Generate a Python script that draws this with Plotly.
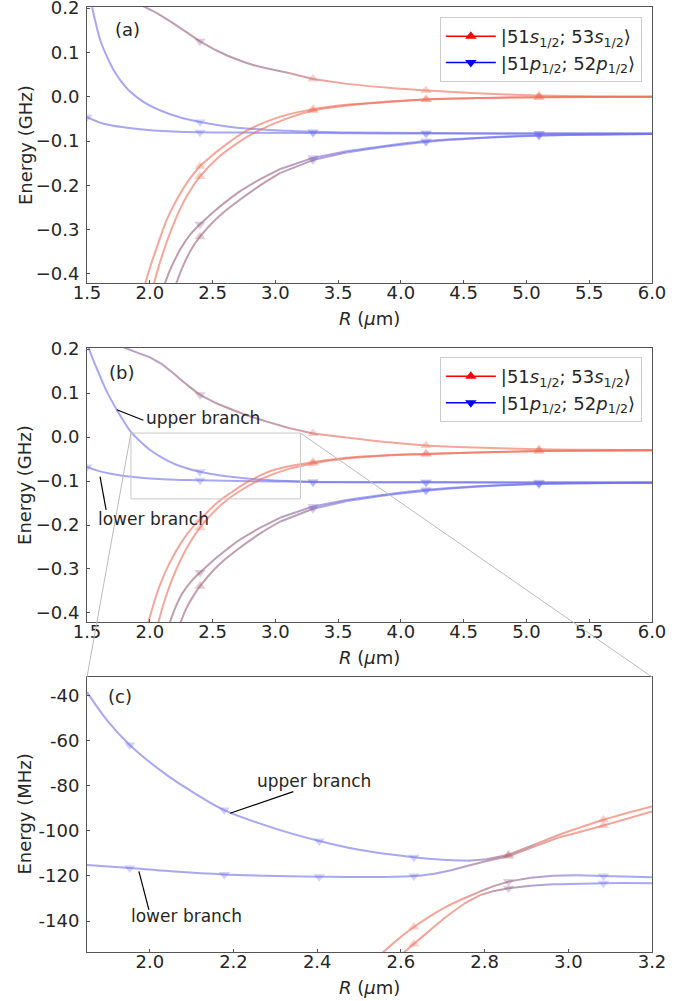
import plotly.graph_objects as go

# ---------------------------------------------------------------
# Axis ticks
# ---------------------------------------------------------------
AB_R_TICKS = [1.5, 2.0, 2.5, 3.0, 3.5, 4.0, 4.5, 5.0, 5.5, 6.0]
AB_R_LABELS = ["1.5", "2.0", "2.5", "3.0", "3.5", "4.0", "4.5", "5.0", "5.5", "6.0"]
AB_E_TICKS = [-0.4, -0.3, -0.2, -0.1, 0.0, 0.1, 0.2]
AB_E_LABELS = ["\u22120.4", "\u22120.3", "\u22120.2", "\u22120.1", "0.0", "0.1", "0.2"]
C_R_TICKS = [2.0, 2.2, 2.4, 2.6, 2.8, 3.0, 3.2]
C_R_LABELS = ["2.0", "2.2", "2.4", "2.6", "2.8", "3.0", "3.2"]
C_E_TICKS = [-140, -120, -100, -80, -60, -40]
C_E_LABELS = ["-140", "-120", "-100", "-80", "-60", "-40"]

# sample positions carrying a triangle marker
MARK_R_AB = [1.5, 2.4, 3.3, 4.2, 5.1]
MARK_R_C = [1.952, 2.178, 2.405, 2.631, 2.857, 3.084]

# ---------------------------------------------------------------
# Panel (a): pair potentials, energy in GHz; *_P = p-pair character
# ---------------------------------------------------------------
A_TOP_R = [1.95, 2.05, 2.164, 2.28, 2.4, 2.52, 2.65, 2.83, 3.1, 3.3, 3.57, 3.9, 4.2, 4.6, 5.1, 5.5, 6.0]
A_TOP_E = [0.204, 0.19, 0.170, 0.148, 0.125, 0.106, 0.089, 0.071, 0.054, 0.040, 0.029, 0.020, 0.014, 0.008, 0.003, 0.001, 0.0]
A_TOP_P = [0.6, 0.55, 0.5, 0.5, 0.55, 0.5, 0.5, 0.5, 0.3, 0.1, 0, 0, 0, 0, 0, 0, 0]

A_UP_R = [1.54, 1.575, 1.606, 1.66, 1.713, 1.766, 1.845, 1.952, 2.085, 2.244, 2.4, 2.616, 2.829, 3.095, 3.3, 3.6, 4.2, 5.1, 6.0]
A_UP_E = [0.202, 0.160, 0.127, 0.090, 0.060, 0.037, 0.011, -0.012, -0.031, -0.047, -0.057, -0.067, -0.073, -0.077, -0.079, -0.081, -0.082, -0.083, -0.083]
A_UP_P = [1, 1, 1, 1, 1, 1, 1, 1, 1, 1, 1, 1, 1, 1, 1, 1, 1, 1, 1]

A_FLAT_R = [1.5, 1.633, 1.819, 2.032, 2.4, 2.776, 3.3, 4.2, 5.1, 6.0]
A_FLAT_E = [-0.046, -0.061, -0.070, -0.076, -0.080, -0.081, -0.082, -0.083, -0.083, -0.083]
A_FLAT_P = [1, 1, 1, 1, 1, 1, 1, 1, 1, 1]

A_S1_R = [1.955, 2.0, 2.05, 2.135, 2.2, 2.295, 2.4, 2.483, 2.587, 2.776, 3.04, 3.3, 3.565, 3.9, 4.2, 4.6, 5.1, 6.0]
A_S1_E = [-0.43, -0.387, -0.345, -0.278, -0.24, -0.195, -0.157, -0.136, -0.112, -0.076, -0.045, -0.028, -0.018, -0.011, -0.006, -0.003, -0.001, 0.0]
A_S1_P = [0, 0, 0, 0, 0, 0, 0, 0, 0, 0, 0, 0, 0, 0, 0, 0, 0, 0]

A_S2_R = [2.025, 2.1, 2.2, 2.3, 2.4, 2.55, 2.7, 2.85, 3.095, 3.3, 3.565, 3.9, 4.2, 4.6, 5.1, 6.0]
A_S2_E = [-0.43, -0.357, -0.28, -0.222, -0.18, -0.136, -0.104, -0.079, -0.049, -0.031, -0.020, -0.012, -0.006, -0.003, -0.001, 0.0]
A_S2_P = [0, 0, 0, 0, 0, 0, 0, 0, 0, 0, 0, 0, 0, 0, 0, 0]

A_M1_R = [2.11, 2.16, 2.242, 2.32, 2.4, 2.507, 2.62, 2.72, 2.88, 3.04, 3.3, 3.565, 3.9, 4.2, 4.6, 5.1, 6.0]
A_M1_E = [-0.43, -0.392, -0.345, -0.312, -0.288, -0.260, -0.234, -0.213, -0.186, -0.163, -0.138, -0.123, -0.110, -0.100, -0.093, -0.087, -0.084]
A_M1_P = [0.5, 0.5, 0.5, 0.5, 0.55, 0.5, 0.5, 0.5, 0.55, 0.65, 0.85, 1, 1, 1, 1, 1, 1]

A_M2_R = [2.2, 2.26, 2.33, 2.4, 2.5, 2.6, 2.72, 2.88, 3.04, 3.3, 3.565, 3.9, 4.2, 4.6, 5.1, 6.0]
A_M2_E = [-0.43, -0.385, -0.345, -0.316, -0.284, -0.258, -0.232, -0.200, -0.172, -0.143, -0.126, -0.112, -0.102, -0.094, -0.088, -0.084]
A_M2_P = [0.45, 0.45, 0.45, 0.45, 0.45, 0.5, 0.5, 0.5, 0.6, 0.85, 1, 1, 1, 1, 1, 1]

# ---------------------------------------------------------------
# Panel (b): same pair states, shifted configuration, energy in GHz
# ---------------------------------------------------------------
B_TOP_R = [1.79, 1.9, 2.002, 2.1, 2.188, 2.3, 2.4, 2.52, 2.667, 2.8, 2.933, 3.1, 3.3, 3.565, 3.9, 4.2, 4.6, 5.1, 5.5, 6.0]
B_TOP_E = [0.204, 0.192, 0.181, 0.165, 0.145, 0.118, 0.096, 0.078, 0.061, 0.047, 0.035, 0.021, 0.008, -0.001, -0.012, -0.019, -0.024, -0.028, -0.029, -0.030]
B_TOP_P = [0.75, 0.7, 0.65, 0.55, 0.5, 0.5, 0.55, 0.5, 0.5, 0.5, 0.45, 0.3, 0.1, 0, 0, 0, 0, 0, 0, 0]

B_UP_R = [1.51, 1.55, 1.60, 1.66, 1.737, 1.79, 1.843, 1.92, 2.0, 2.136, 2.25, 2.4, 2.55, 2.667, 2.773, 2.9, 3.1, 3.3, 3.6, 4.2, 5.1, 6.0]
B_UP_E = [0.205, 0.175, 0.141, 0.102, 0.062, 0.037, 0.014, -0.009, -0.029, -0.053, -0.067, -0.079, -0.087, -0.091, -0.094, -0.097, -0.100, -0.102, -0.103, -0.103, -0.103, -0.103]
B_UP_P = [1, 1, 1, 1, 1, 1, 1, 1, 1, 1, 1, 1, 1, 1, 1, 1, 1, 1, 1, 1, 1, 1]

B_FLAT_R = [1.5, 1.604, 1.7, 1.869, 2.0, 2.2, 2.4, 2.7, 3.0, 3.3, 4.2, 5.1, 6.0]
B_FLAT_E = [-0.068, -0.078, -0.084, -0.091, -0.094, -0.097, -0.098, -0.100, -0.101, -0.102, -0.103, -0.104, -0.104]
B_FLAT_P = [1, 1, 1, 1, 1, 1, 1, 1, 1, 1, 1, 1, 1]

B_S1_R = [1.98, 2.03, 2.08, 2.16, 2.25, 2.32, 2.4, 2.534, 2.65, 2.773, 2.986, 3.3, 3.565, 3.9, 4.2, 4.6, 5.1, 6.0]
B_S1_E = [-0.43, -0.38, -0.337, -0.285, -0.24, -0.212, -0.188, -0.150, -0.126, -0.103, -0.075, -0.057, -0.047, -0.041, -0.038, -0.035, -0.032, -0.030]
B_S1_P = [0, 0, 0, 0, 0, 0, 0, 0, 0, 0, 0, 0, 0, 0, 0, 0, 0, 0]

B_S2_R = [2.06, 2.12, 2.18, 2.24, 2.32, 2.4, 2.5, 2.62, 2.75, 2.9, 3.1, 3.3, 3.565, 3.9, 4.2, 4.6, 5.1, 6.0]
B_S2_E = [-0.43, -0.37, -0.322, -0.283, -0.24, -0.206, -0.173, -0.142, -0.117, -0.094, -0.073, -0.060, -0.049, -0.042, -0.039, -0.035, -0.032, -0.030]
B_S2_P = [0, 0, 0, 0, 0, 0, 0, 0, 0, 0, 0, 0, 0, 0, 0, 0, 0, 0]

B_M1_R = [2.15, 2.2, 2.26, 2.33, 2.4, 2.507, 2.62, 2.72, 2.88, 3.04, 3.3, 3.565, 3.9, 4.2, 4.6, 5.1, 6.0]
B_M1_E = [-0.43, -0.39, -0.355, -0.328, -0.308, -0.280, -0.254, -0.233, -0.206, -0.183, -0.158, -0.143, -0.130, -0.120, -0.112, -0.106, -0.104]
B_M1_P = [0.5, 0.5, 0.5, 0.5, 0.55, 0.5, 0.5, 0.5, 0.55, 0.65, 0.85, 1, 1, 1, 1, 1, 1]

B_M2_R = [2.235, 2.29, 2.35, 2.4, 2.5, 2.6, 2.72, 2.88, 3.04, 3.3, 3.565, 3.9, 4.2, 4.6, 5.1, 6.0]
B_M2_E = [-0.43, -0.39, -0.36, -0.339, -0.305, -0.278, -0.251, -0.219, -0.192, -0.163, -0.146, -0.132, -0.122, -0.113, -0.107, -0.104]
B_M2_P = [0.45, 0.45, 0.45, 0.45, 0.45, 0.5, 0.5, 0.5, 0.6, 0.85, 1, 1, 1, 1, 1, 1]

# ---------------------------------------------------------------
# Panel (c): close-up of the crossing region, energy in MHz
# ---------------------------------------------------------------
C_UP_R = [1.85, 1.9, 1.952, 2.04, 2.1, 2.178, 2.3, 2.405, 2.5, 2.631, 2.7, 2.76, 2.805, 2.857, 2.92, 2.98, 3.084, 3.2]
C_UP_E = [-38.5, -51.5, -61.9, -75.2, -82.5, -90.8, -99.0, -104.5, -108.4, -111.7, -112.8, -113.2, -112.6, -110.6, -106.0, -101.6, -95.1, -89.2]
C_UP_P = [1, 1, 1, 1, 1, 1, 1, 1, 1, 1, 1, 0.8, 0.6, 0.35, 0.15, 0, 0, 0]

C_LOW_R = [1.85, 1.952, 2.05, 2.178, 2.3, 2.405, 2.5, 2.631, 2.68, 2.72, 2.76, 2.805, 2.857, 2.92, 2.98, 3.084, 3.2]
C_LOW_E = [-115.1, -116.5, -117.9, -119.3, -120.0, -120.3, -120.5, -120.0, -119.0, -117.5, -115.5, -113.4, -111.3, -106.8, -102.8, -97.6, -91.4]
C_LOW_P = [1, 1, 1, 1, 1, 1, 1, 1, 0.9, 0.75, 0.6, 0.45, 0.3, 0.1, 0, 0, 0]

C_S1_R = [2.55, 2.6, 2.631, 2.67, 2.709, 2.75, 2.789, 2.82, 2.857, 2.91, 2.964, 3.02, 3.084, 3.2]
C_S1_E = [-155.0, -147.0, -142.6, -137.8, -133.6, -130.0, -126.9, -124.6, -122.5, -120.8, -119.9, -119.7, -120.0, -120.6]
C_S1_P = [0, 0, 0, 0, 0, 0.2, 0.4, 0.5, 0.55, 0.75, 0.9, 1, 1, 1]

C_S2_R = [2.6, 2.631, 2.67, 2.709, 2.75, 2.789, 2.82, 2.857, 2.91, 2.964, 3.084, 3.2]
C_S2_E = [-155.0, -150.1, -144.0, -138.0, -132.4, -128.5, -126.8, -125.4, -124.3, -123.7, -123.2, -123.2]
C_S2_P = [0, 0, 0, 0, 0.1, 0.3, 0.5, 0.6, 0.8, 1, 1, 1]

LEGEND_S = "|51<i>s</i><sub>1/2</sub>; 53<i>s</i><sub>1/2</sub>\u27e9"
LEGEND_P = "|51<i>p</i><sub>1/2</sub>; 52<i>p</i><sub>1/2</sub>\u27e9"

# ---------------------------------------------------------------
# Layout geometry
# ---------------------------------------------------------------
W, H = 692, 1001
M_L, M_R, M_T, M_B = 87, 40, 7, 49
DOM_A = [0.7079, 1.0]
DOM_B = [0.3492, 0.6392]
DOM_C = [0.0, 0.2910]
AB_R_RANGE = [1.5, 6.0]
AB_E_RANGE = [-0.4205, 0.2025]
C_R_RANGE = [1.85, 3.2]
C_E_RANGE = [-153.7, -31.8]
INSET_BOX = dict(x0=1.85, x1=3.2, y0=-0.1406, y1=0.009)

FONT = "DejaVu Sans"
TXT = "#262626"
RED = (238, 106, 86)
MIX = (150, 92, 118)
BLUE = (108, 108, 236)


def char_color(p, alpha):
    """Colour from s-pair (p=0, red) through mixed to p-pair (p=1, blue)."""
    if p <= 0.5:
        t, a, b = p / 0.5, RED, MIX
    else:
        t, a, b = (p - 0.5) / 0.5, MIX, BLUE
    c = [round(a[i] + (b[i] - a[i]) * t) for i in range(3)]
    return f"rgba({c[0]},{c[1]},{c[2]},{alpha})"


fig = go.Figure()


def add_curve(r, e, p, xa, ya, mark_r):
    # markers at the sampled positions (up triangle: s-like, down: p-like)
    mx, my, ms, mc = [], [], [], []
    for ri, ei, pi in zip(r, e, p):
        if any(abs(ri - m) < 1e-9 for m in mark_r):
            mx.append(ri)
            my.append(ei)
            ms.append("triangle-up" if pi < 0.5 else "triangle-down")
            mc.append(char_color(pi, 0.3))
    if mx:
        fig.add_trace(go.Scatter(
            x=mx, y=my, mode="markers", xaxis=xa, yaxis=ya,
            marker=dict(symbol=ms, size=10, color=mc, line=dict(width=0)),
            showlegend=False, hoverinfo="skip", cliponaxis=True))
    # the curve itself, split into runs of equal character
    n = len(r)
    start = 0
    while start < n - 1:
        end = start
        while end + 1 < n - 1 and p[end + 1] == p[start]:
            end += 1
        fig.add_trace(go.Scatter(
            x=r[start:end + 2], y=e[start:end + 2], mode="lines",
            xaxis=xa, yaxis=ya,
            line=dict(color=char_color(p[start], 0.6), width=2, shape="spline"),
            showlegend=False, hoverinfo="skip"))
        start = end + 1


PANEL_A = [(A_TOP_R, A_TOP_E, A_TOP_P), (A_UP_R, A_UP_E, A_UP_P),
           (A_FLAT_R, A_FLAT_E, A_FLAT_P), (A_S1_R, A_S1_E, A_S1_P),
           (A_S2_R, A_S2_E, A_S2_P), (A_M1_R, A_M1_E, A_M1_P),
           (A_M2_R, A_M2_E, A_M2_P)]
PANEL_B = [(B_TOP_R, B_TOP_E, B_TOP_P), (B_UP_R, B_UP_E, B_UP_P),
           (B_FLAT_R, B_FLAT_E, B_FLAT_P), (B_S1_R, B_S1_E, B_S1_P),
           (B_S2_R, B_S2_E, B_S2_P), (B_M1_R, B_M1_E, B_M1_P),
           (B_M2_R, B_M2_E, B_M2_P)]
PANEL_C = [(C_UP_R, C_UP_E, C_UP_P), (C_LOW_R, C_LOW_E, C_LOW_P),
           (C_S1_R, C_S1_E, C_S1_P), (C_S2_R, C_S2_E, C_S2_P)]

for r, e, p in PANEL_A:
    add_curve(r, e, p, "x", "y", MARK_R_AB)
for r, e, p in PANEL_B:
    add_curve(r, e, p, "x2", "y2", MARK_R_AB)
for r, e, p in PANEL_C:
    add_curve(r, e, p, "x3", "y3", MARK_R_C)

# legend entries for panels (a) and (b)
for leg, xa, ya in (("legend", "x", "y"), ("legend2", "x2", "y2")):
    fig.add_trace(go.Scatter(
        x=[None], y=[None], mode="lines+markers", xaxis=xa, yaxis=ya,
        line=dict(color="red", width=1.5),
        marker=dict(symbol="triangle-up", size=10, color="red"),
        name=LEGEND_S, legend=leg))
    fig.add_trace(go.Scatter(
        x=[None], y=[None], mode="lines+markers", xaxis=xa, yaxis=ya,
        line=dict(color="blue", width=1.5),
        marker=dict(symbol="triangle-down", size=10, color="blue"),
        name=LEGEND_P, legend=leg))

axis_style = dict(
    showline=True, linecolor="#555555", linewidth=1, mirror=True,
    ticks="inside", ticklen=3, tickcolor="#555555", showgrid=False,
    zeroline=False, automargin=False, ticklabeloverflow="allow",
    tickfont=dict(family=FONT, size=18, color=TXT))
x_style = dict(axis_style, ticklabelstandoff=-7)
y_style = dict(axis_style, ticklabelstandoff=3)

legend_style = dict(
    xanchor="right", yanchor="top", bgcolor="white", bordercolor="#cccccc",
    borderwidth=1, font=dict(family=FONT, size=18, color=TXT),
    tracegroupgap=0, itemwidth=50)


def to_paper_b(x, y):
    px = (x - AB_R_RANGE[0]) / (AB_R_RANGE[1] - AB_R_RANGE[0])
    py = DOM_B[0] + (y - AB_E_RANGE[0]) / (AB_E_RANGE[1] - AB_E_RANGE[0]) * (DOM_B[1] - DOM_B[0])
    return px, py


corner_l = to_paper_b(INSET_BOX["x0"], INSET_BOX["y1"])
corner_r = to_paper_b(INSET_BOX["x1"], INSET_BOX["y1"])

shapes = [
    dict(type="rect", xref="x2", yref="y2", layer="above",
         line=dict(color="#c8c8c8", width=1), **INSET_BOX),
    dict(type="line", xref="paper", yref="paper", layer="above",
         x0=corner_l[0], y0=corner_l[1], x1=0, y1=DOM_C[1],
         line=dict(color="#bbbbbb", width=1)),
    dict(type="line", xref="paper", yref="paper", layer="above",
         x0=corner_r[0], y0=corner_r[1], x1=1, y1=DOM_C[1],
         line=dict(color="#bbbbbb", width=1)),
    # pointers to the two branches
    dict(type="line", xref="x2", yref="y2", x0=1.737, y0=0.062, x1=1.949, y1=0.038,
         line=dict(color="black", width=1.2)),
    dict(type="line", xref="x2", yref="y2", x0=1.604, y0=-0.090, x1=1.652, y1=-0.1655,
         line=dict(color="black", width=1.2)),
    dict(type="line", xref="x3", yref="y3", x0=2.192, y0=-92.2, x1=2.343, y1=-82.6,
         line=dict(color="black", width=1.2)),
    dict(type="line", xref="x3", yref="y3", x0=1.974, y0=-118.0, x1=1.998, y1=-135.0,
         line=dict(color="black", width=1.2)),
]

ann_font = dict(family=FONT, size=17, color=TXT)
label_font = dict(family=FONT, size=18, color=TXT)
annotations = [
    dict(text="(a)", xref="x domain", yref="y domain", x=0.0708, y=0.9167,
         xanchor="center", yanchor="middle", showarrow=False, font=label_font),
    dict(text="(b)", xref="x2 domain", yref="y2 domain", x=0.0614, y=0.9088,
         xanchor="center", yanchor="middle", showarrow=False, font=label_font),
    dict(text="(c)", xref="x3 domain", yref="y3 domain", x=0.0584, y=0.928,
         xanchor="center", yanchor="middle", showarrow=False, font=label_font),
    dict(text="upper branch", xref="x2", yref="y2", x=1.955, y=0.0438,
         xanchor="left", yanchor="middle", showarrow=False, font=ann_font),
    dict(text="lower branch", xref="x2", yref="y2", x=1.569, y=-0.1865,
         xanchor="left", yanchor="middle", showarrow=False, font=ann_font),
    dict(text="upper branch", xref="x3", yref="y3", x=2.2514, y=-77.7,
         xanchor="left", yanchor="middle", showarrow=False, font=ann_font),
    dict(text="lower branch", xref="x3", yref="y3", x=1.95, y=-137.7,
         xanchor="left", yanchor="middle", showarrow=False, font=ann_font),
]

title_font = dict(family=FONT, size=18, color=TXT)
for dom in (DOM_A, DOM_B, DOM_C):
    annotations.append(dict(
        text="<i>R</i> (<i>\u03bc</i>m)", xref="paper", yref="paper", x=0.5,
        y=dom[0], yshift=-35, xanchor="center", yanchor="middle",
        showarrow=False, font=title_font))
for dom, unit in ((DOM_A, "GHz"), (DOM_B, "GHz"), (DOM_C, "MHz")):
    annotations.append(dict(
        text=f"Energy ({unit})", xref="paper", yref="paper", x=0, xshift=-62,
        y=(dom[0] + dom[1]) / 2, xanchor="center", yanchor="middle",
        textangle=-90, showarrow=False, font=title_font))

fig.update_layout(
    width=W, height=H,
    margin=dict(l=M_L, r=M_R, t=M_T, b=M_B, autoexpand=False),
    paper_bgcolor="white", plot_bgcolor="white",
    font=dict(family=FONT, color=TXT),
    xaxis=dict(domain=[0, 1], anchor="y", range=AB_R_RANGE,
               tickvals=AB_R_TICKS, ticktext=AB_R_LABELS, **x_style),
    yaxis=dict(domain=DOM_A, anchor="x", range=AB_E_RANGE,
               tickvals=AB_E_TICKS, ticktext=AB_E_LABELS, **y_style),
    xaxis2=dict(domain=[0, 1], anchor="y2", range=AB_R_RANGE,
                tickvals=AB_R_TICKS, ticktext=AB_R_LABELS, **x_style),
    yaxis2=dict(domain=DOM_B, anchor="x2", range=AB_E_RANGE,
                tickvals=AB_E_TICKS, ticktext=AB_E_LABELS, **y_style),
    xaxis3=dict(domain=[0, 1], anchor="y3", range=C_R_RANGE,
                tickvals=C_R_TICKS, ticktext=C_R_LABELS, **x_style),
    yaxis3=dict(domain=DOM_C, anchor="x3", range=C_E_RANGE,
                tickvals=C_E_TICKS, ticktext=C_E_LABELS, **y_style),
    legend=dict(x=0.982, y=0.9894, **legend_style),
    legend2=dict(x=0.982, y=0.6296, **legend_style),
    shapes=shapes,
    annotations=annotations,
)

fig.write_html("out.html")
